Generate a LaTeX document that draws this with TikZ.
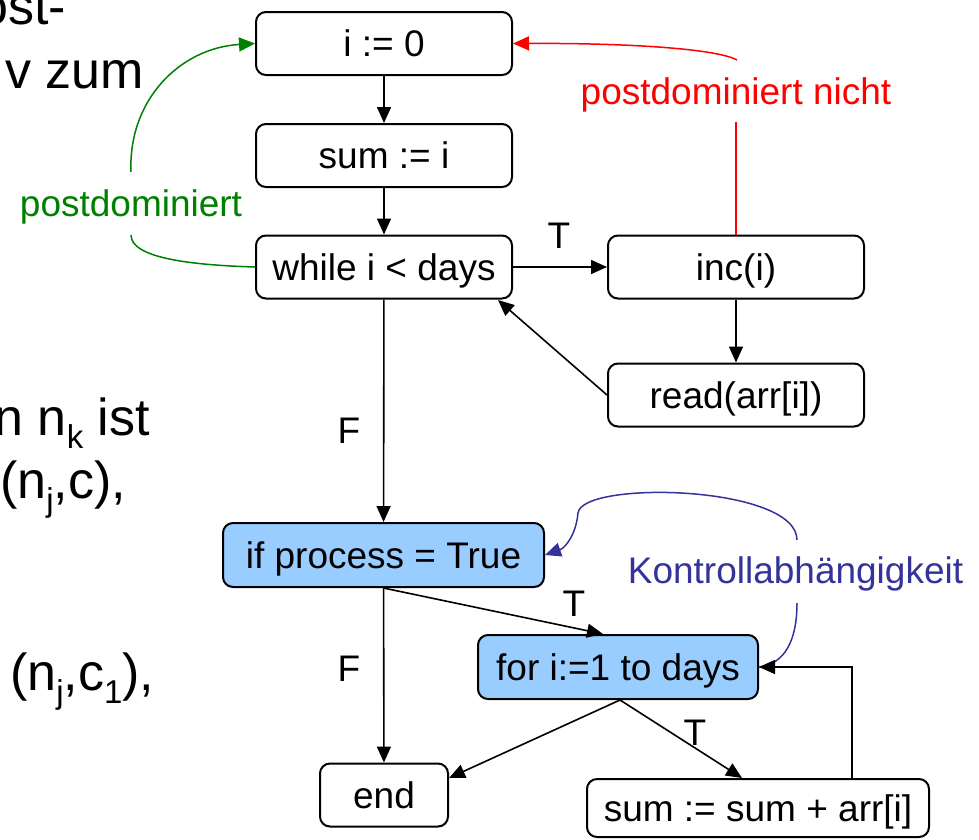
\documentclass[tikz,border=0pt]{standalone}
\usepackage{fontspec}
\setmainfont{Liberation Sans}
\usetikzlibrary{arrows.meta}
\definecolor{boxblue}{HTML}{99CCFF}
\definecolor{pdgreen}{HTML}{008000}
\definecolor{pdred}{HTML}{FF0000}
\definecolor{cdblue}{HTML}{333399}
% lowered, smaller index letter for the side text
\newcommand{\lsub}[1]{\raisebox{-13pt}{\fontsize{33}{33}\selectfont #1}}

\begin{document}
\begin{tikzpicture}[x=1pt,y=-1pt,
  stmt/.style={draw=black, line width=2pt, rounded corners=10pt,
    minimum height=63pt, inner sep=0pt, fill=white,
    font=\fontsize{37}{44}\selectfont, text height=30pt, text depth=4pt},
  cond/.style={stmt, fill=boxblue},
  tip/.style={-{Triangle[length=16pt,width=14pt]}},
  flow/.style={line width=1.6pt, tip},
  lbl/.style={font=\fontsize{37}{44}\selectfont, inner sep=0pt, anchor=base},
  side/.style={font=\fontsize{52}{62}\selectfont, inner sep=0pt},
  note/.style={line width=1.5pt},
]
\useasboundingbox (0,0) rectangle (979,839);
\clip (0,0) rectangle (979,839);

% side text of the slide
\node[side, anchor=base east] (t1) at (66,24) {post-};
\node[side, anchor=base west] (t2) at (5,88) {v zum};
\node[side, anchor=base east] (t3) at (150,435) {n n\lsub{k} ist};
\node[side, anchor=base west] (t4) at (0,498) {(n\lsub{j},c),};
\node[side, anchor=base west] (t5) at (10,690) {(n\lsub{j},c\lsub{1}),};

% control flow graph
\node[stmt, minimum width=256pt] (i0)    at (384,43.5) {i := 0};
\node[stmt, minimum width=256pt] (sumi)  at (384,155.5) {sum := i};
\node[stmt, minimum width=256pt] (while) at (384,267) {while i < days};
\node[stmt, minimum width=256pt] (inc)   at (736,267) {inc(i)};
\node[stmt, minimum width=256pt] (read)  at (736,395) {read(arr[i])};
\node[cond, minimum width=321pt, minimum height=64pt] (if)  at (383.5,555) {if process = True};
\node[cond, minimum width=280pt, minimum height=64pt] (for) at (618,667) {for i:=1 to days};
\node[stmt, minimum width=128pt, minimum height=63pt] (end) at (384,795) {end};
\node[stmt, minimum width=342pt, minimum height=58pt] (acc) at (758,808) {sum := sum + arr[i]};

\coordinate (wbr) at (498,300);

\draw[flow] (i0) -- (sumi);
\draw[flow] (sumi) -- (while);
\draw[flow] (while) -- (inc);
\draw[flow] (inc) -- (read);
\draw[flow] (read.west) -- (wbr);
\draw[flow] (while) -- (if);
\draw[flow] (if) -- (end);
\draw[flow] (if.south) -- ([xshift=-15pt]for.north);
\draw[flow] ([xshift=2pt]for.south) -- ([yshift=17pt]end.east);
\draw[flow] ([xshift=2pt]for.south) -- ([xshift=-16pt]acc.north);

\node[lbl] (lt1) at (559,248) {T};
\node[lbl] (lf1) at (349,443) {F};
\node[lbl] (lt2) at (574,616) {T};
\node[lbl] (lf2) at (349,681) {F};
\node[lbl] (lt3) at (695,745) {T};

% postdominance annotations
\node[lbl, text=pdgreen] (pd) at (131,216) {postdominiert};
\coordinate (g1) at (131,235);
\coordinate (g2) at (131,172);
\draw[note, pdgreen] (while.west) .. controls (190,265) and (131,258) .. (g1);
\draw[note, pdgreen, tip] (g2) .. controls (128,100) and (180,48) .. (i0.west);

\node[lbl, text=pdred] (npd) at (736,104) {postdominiert nicht};
\coordinate (r1) at (736,122);
\coordinate (r2) at (737,60);
\draw[note, pdred] (inc.north) -- (r1);
\draw[note, pdred, tip] (r2) .. controls (715,48) and (620,43) .. (i0.east);

% control dependence annotation
\node[lbl, text=cdblue] (cd) at (795.5,583) {Kontrollabhängigkeit};
\coordinate (b1) at (797,540);
\coordinate (b2) at (797,603);
\coordinate (b3) at (578,513);
\draw[note, cdblue, tip] (b1) .. controls (797,485) and (582,480) .. (b3)
  .. controls (576,535) and (565,548) .. (if.east);
\draw[note, cdblue] (b2) .. controls (797,640) and (785,664) .. (for.east);
\draw[flow] ([xshift=94pt]acc.north) |- (for.east);
\end{tikzpicture}
\end{document}
